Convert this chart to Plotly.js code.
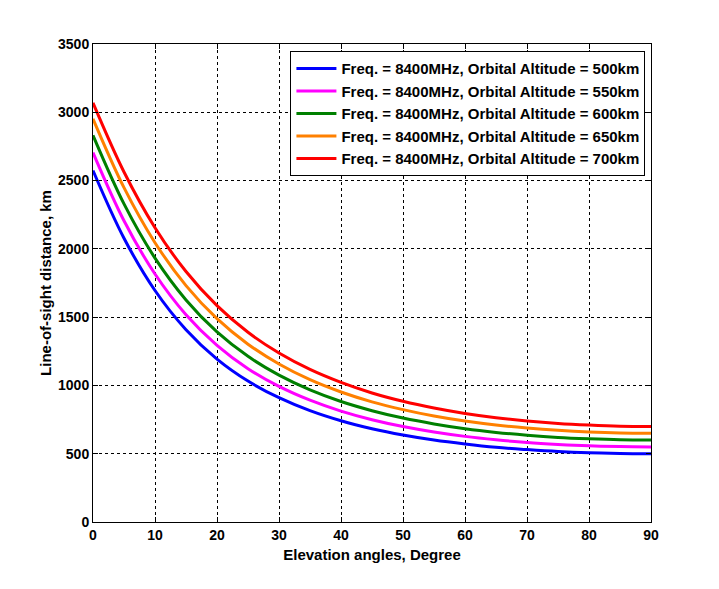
<!DOCTYPE html>
<html>
<head>
<meta charset="utf-8">
<script src="https://cdn.plot.ly/plotly-3.0.1.min.js"></script>
<style>html,body{margin:0;padding:0;background:#fff;}#chart{width:719px;height:589px;}</style>
</head>
<body>
<div id="chart"></div>
<script>
const elevation = [0, 5, 10, 15, 20, 25, 30, 35, 40, 45, 50, 55, 60, 65, 70, 75, 80, 85, 90];
const alt500 = [2574, 2078, 1695, 1408, 1193, 1032, 910, 815, 741, 683, 637, 600, 571, 547, 530, 516, 507, 502, 500];
const alt550 = [2705, 2206, 1816, 1518, 1294, 1123, 993, 892, 812, 749, 699, 659, 627, 602, 582, 568, 558, 552, 550];
const alt600 = [2831, 2329, 1932, 1626, 1392, 1213, 1075, 967, 882, 815, 761, 718, 683, 656, 635, 619, 609, 602, 600];
const alt650 = [2952, 2448, 2045, 1731, 1489, 1302, 1157, 1042, 952, 880, 823, 776, 739, 710, 688, 671, 659, 652, 650];
const alt700 = [3069, 2563, 2155, 1834, 1584, 1389, 1237, 1117, 1022, 945, 884, 835, 795, 764, 740, 722, 710, 702, 700];
const seriesNames = [
  "Freq. = 8400MHz, Orbital Altitude = 500km",
  "Freq. = 8400MHz, Orbital Altitude = 550km",
  "Freq. = 8400MHz, Orbital Altitude = 600km",
  "Freq. = 8400MHz, Orbital Altitude = 650km",
  "Freq. = 8400MHz, Orbital Altitude = 700km"
];
const seriesValues = [alt500, alt550, alt600, alt650, alt700];
const seriesColors = ["#0000ff", "#ff00ff", "#008000", "#ff8000", "#ff0000"];

const traces = seriesValues.map((ys, i) => ({
  x: elevation, y: ys, name: seriesNames[i], type: "scatter", mode: "lines",
  line: {color: seriesColors[i], width: 3, shape: "spline", smoothing: 1}
}));

const FONT = "Liberation Sans, Arial, sans-serif";
const axisCommon = {
  showline: true, linecolor: "#000", linewidth: 1, mirror: "ticks",
  ticks: "inside", ticklen: 5, tickcolor: "#000",
  showgrid: true, gridcolor: "#000", gridwidth: 1, griddash: "3px,3px",
  zeroline: false,
  tickfont: {family: FONT, size: 14, color: "#000", weight: "bold"}
};

const layout = {
  width: 719, height: 589,
  margin: {l: 93, r: 68, t: 44, b: 67},
  paper_bgcolor: "#fff", plot_bgcolor: "#fff",
  showlegend: true,
  xaxis: Object.assign({}, axisCommon, {
    range: [0, 90], tickvals: [0, 10, 20, 30, 40, 50, 60, 70, 80, 90],
    title: {text: "Elevation angles, Degree", standoff: 7,
      font: {family: FONT, size: 15, color: "#000", weight: "bold"}}
  }),
  yaxis: Object.assign({}, axisCommon, {
    range: [0, 3500], tickvals: [0, 500, 1000, 1500, 2000, 2500, 3000, 3500],
    title: {text: "Line-of-sight distance, km", standoff: 2,
      font: {family: FONT, size: 15, color: "#000", weight: "bold"}}
  }),
  legend: {
    x: 0.99, xanchor: "right", y: 0.985, yanchor: "top",
    bgcolor: "#fff", bordercolor: "#000", borderwidth: 1,
    font: {family: FONT, size: 15, color: "#000", weight: "bold"},
    tracegroupgap: 0, itemwidth: 40
  }
};

Plotly.newPlot("chart", traces, layout, {displayModeBar: false, staticPlot: true});
</script>
</body>
</html>
